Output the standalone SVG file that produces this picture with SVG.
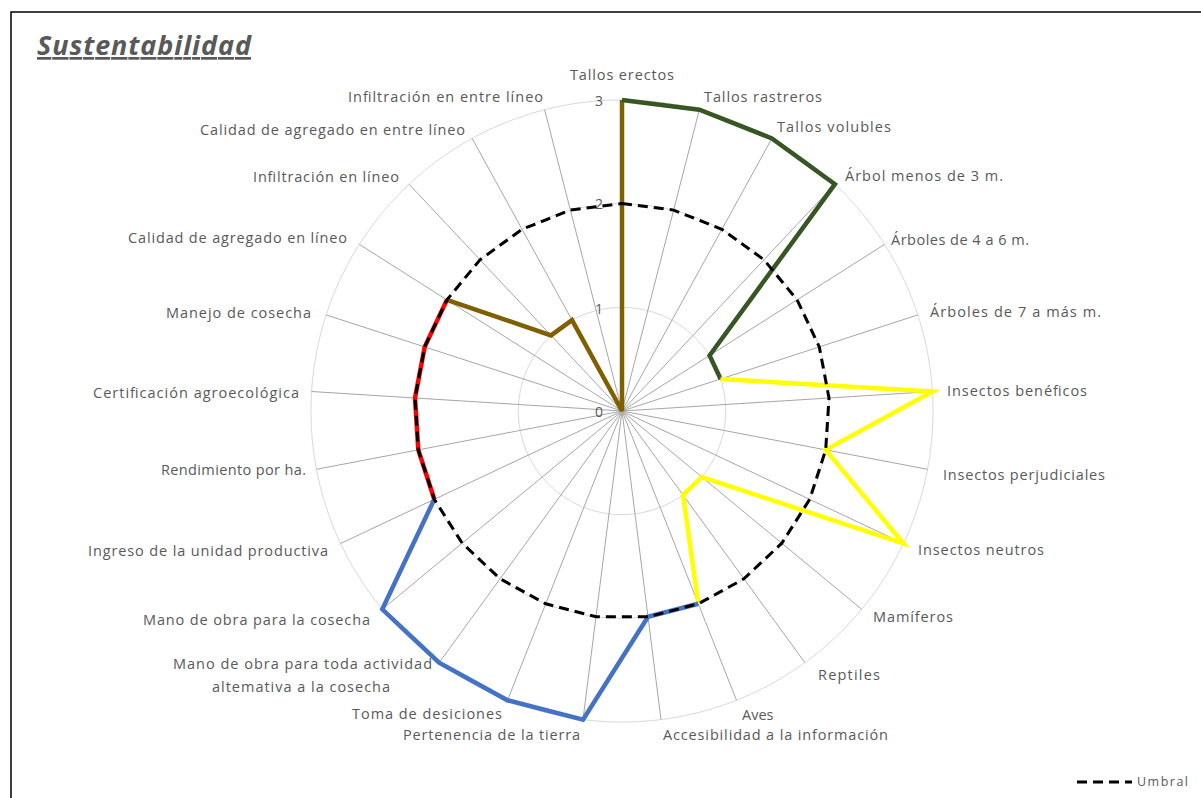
<svg xmlns="http://www.w3.org/2000/svg" width="1201" height="798" viewBox="0 0 1201 798">
<style>
.lbl{font-family:"Open Sans","Liberation Sans",sans-serif;font-size:14.5px;fill:#595959}
.num{font-family:"Open Sans","Liberation Sans",sans-serif;font-size:14px;fill:#595959;text-anchor:end}
.ring{fill:none;stroke:#D9D9D9;stroke-width:1}
.spoke{stroke:#A6A6A6;stroke-width:1}
.ser{fill:none;stroke-width:4.5;stroke-linejoin:miter;stroke-linecap:butt}
.umb{fill:none;stroke:#000;stroke-width:3;stroke-dasharray:10 6}
</style>
<rect x="0" y="0" width="1201" height="798" fill="#fff"/>
<rect x="11" y="12" width="1200" height="800" fill="none" stroke="#000" stroke-width="1.5"/>
<text x="37" y="55" font-family="'Open Sans','Liberation Sans',sans-serif" font-size="27" font-weight="bold" font-style="italic" fill="#595959" text-decoration="underline" textLength="214">Sustentabilidad</text>

<g id="grid">
<circle class="ring" cx="622" cy="411" r="103.7"/>
<circle class="ring" cx="622" cy="411" r="207.4"/>
<circle class="ring" cx="622" cy="411" r="311.1"/>
<path class="spoke" d="M622 411L622 99.9M622 411L699.4 109.7M622 411L771.9 138.4M622 411L834.9 184.2M622 411L884.7 244.3M622 411L917.9 314.9M622 411L932.5 391.5M622 411L927.6 469.3M622 411L903.5 543.5M622 411L861.7 609.3M622 411L804.9 662.7M622 411L736.5 700.3M622 411L661 719.6M622 411L583 719.6M622 411L507.5 700.3M622 411L439.1 662.7M622 411L382.3 609.3M622 411L340.5 543.5M622 411L316.4 469.3M622 411L311.5 391.5M622 411L326.1 314.9M622 411L359.3 244.3M622 411L409.1 184.2M622 411L472.1 138.4M622 411L544.6 109.7"/>
<text class="num" x="603" y="106">3</text>
<text class="num" x="603" y="209">2</text>
<text class="num" x="603" y="314">1</text>
<text class="num" x="603" y="417">0</text>
</g>

<g id="series">
<polyline id="s-brown" class="ser" stroke="#7F6000" points="446.9,299.9 551,335.4 572,320.1 622,411 622,99.9"/>
<polyline id="s-green" class="ser" stroke="#375623" points="622,99.9 699.4,109.7 771.9,138.4 834.9,184.2 709.6,355.4 720.6,379"/>
<polyline id="s-yellow" class="ser" stroke="#FFFF00" points="720.6,379 932.5,391.5 825.7,449.9 903.5,543.5 701.9,477.1 683,494.9 698.3,603.8"/>
<polyline id="s-blue" class="ser" stroke="#4472C4" points="698.3,603.8 648,616.8 583,719.6 507.5,700.3 439.1,662.7 382.3,609.3 434.3,499.3"/>
<polyline id="s-red" class="ser" stroke="#FF0000" points="434.3,499.3 418.3,449.9 415,398 424.7,346.9 446.9,299.9"/>
<polygon id="umbral" class="umb" points="622,203.6 673.6,210.1 721.9,229.3 764,259.8 797.1,299.9 819.3,346.9 829,398 825.7,449.9 809.7,499.3 781.8,543.2 743.9,578.8 698.3,603.8 648,616.8 596,616.8 545.7,603.8 500.1,578.8 462.2,543.2 434.3,499.3 418.3,449.9 415,398 424.7,346.9 446.9,299.9 480,259.8 522.1,229.3 570.4,210.1"/>
</g>

<g id="labels">
<text id="l0" class="lbl" x="570" y="80" textLength="104">Tallos erectos</text>
<text id="l1" class="lbl" x="704" y="102" textLength="118">Tallos rastreros</text>
<text id="l2" class="lbl" x="777" y="132" textLength="114">Tallos volubles</text>
<text id="l3" class="lbl" x="845" y="181" textLength="158">Árbol menos de 3 m.</text>
<text id="l4" class="lbl" x="891" y="245" textLength="138">Árboles de 4 a 6 m.</text>
<text id="l5" class="lbl" x="930" y="317" textLength="171">Árboles de 7 a más m.</text>
<text id="l6" class="lbl" x="947" y="396" textLength="140">Insectos benéficos</text>
<text id="l7" class="lbl" x="943" y="480" textLength="162">Insectos perjudiciales</text>
<text id="l8" class="lbl" x="918" y="555" textLength="126">Insectos neutros</text>
<text id="l9" class="lbl" x="873" y="622" textLength="80">Mamíferos</text>
<text id="l10" class="lbl" x="818" y="680" textLength="62">Reptiles</text>
<text id="l11" class="lbl" x="742" y="720">Aves</text>
<text id="l12" class="lbl" x="663" y="740" textLength="225">Accesibilidad a la información</text>
<text id="l13" class="lbl" x="403" y="740" textLength="177">Pertenencia de la tierra</text>
<text id="l14" class="lbl" x="352" y="719" textLength="150">Toma de desiciones</text>
<text id="l15" class="lbl" x="173" y="669" textLength="259">Mano de obra para toda actividad</text>
<text id="l15b" class="lbl" x="212" y="692" textLength="178">altemativa a la cosecha</text>
<text id="l16" class="lbl" x="143" y="625" textLength="227">Mano de obra para la cosecha</text>
<text id="l17" class="lbl" x="88" y="556" textLength="240">Ingreso de la unidad productiva</text>
<text id="l18" class="lbl" x="161" y="475" textLength="145">Rendimiento por ha.</text>
<text id="l19" class="lbl" x="93" y="398" textLength="206">Certificación agroecológica</text>
<text id="l20" class="lbl" x="166" y="318" textLength="145">Manejo de cosecha</text>
<text id="l21" class="lbl" x="128" y="243" textLength="219">Calidad de agregado en líneo</text>
<text id="l22" class="lbl" x="253" y="182" textLength="146">Infiltración en líneo</text>
<text id="l23" class="lbl" x="200" y="135" textLength="265">Calidad de agregado en entre líneo</text>
<text id="l24" class="lbl" x="348" y="102" textLength="195">Infiltración en entre líneo</text>
</g>

<g id="legend">
<line x1="1077" y1="782" x2="1132" y2="782" stroke="#000" stroke-width="3" stroke-dasharray="10 6"/>
<text x="1137" y="786" font-family="'Open Sans','Liberation Sans',sans-serif" font-size="12.5" fill="#595959" textLength="51">Umbral</text>
</g>
</svg>
